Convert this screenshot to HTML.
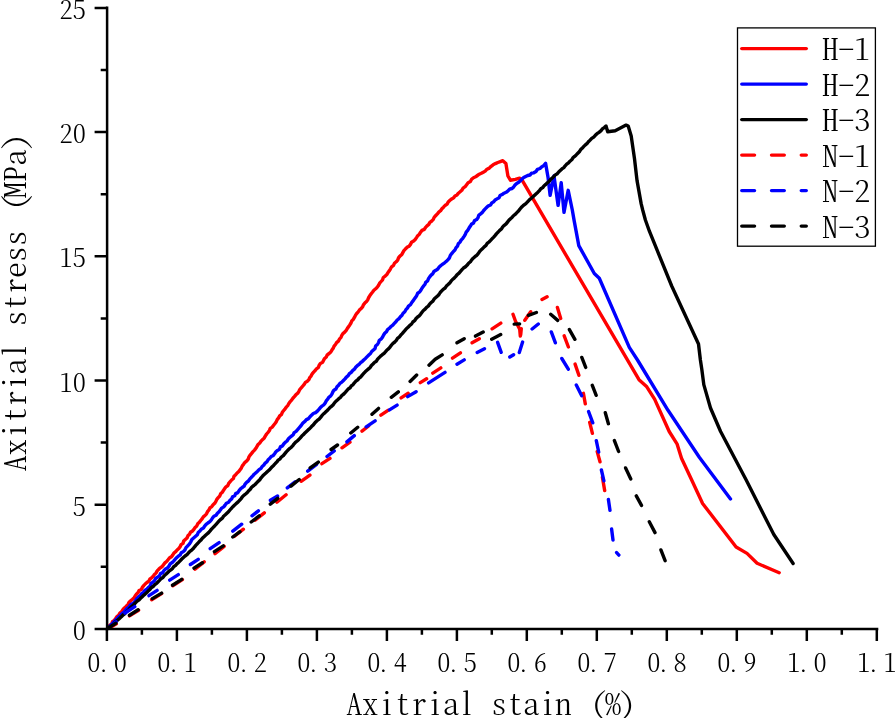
<!DOCTYPE html>
<html><head><meta charset="utf-8"><title>Axitrial stress - stain</title>
<style>
html,body{margin:0;padding:0;background:#fff;}
body{width:895px;height:718px;overflow:hidden;}
svg{display:block;}
text{font-family:"Noto Serif CJK SC", "Liberation Serif", serif;fill:#000;font-weight:300;font-feature-settings:'hwid' 1;}
</style></head><body>
<svg width="895" height="718" viewBox="0 0 895 718">
<rect width="895" height="718" fill="#fff"/>
<clipPath id="pa"><rect x="107.1" y="0" width="788" height="628.9"/></clipPath>
<g fill="none" stroke-width="3.4" stroke-linejoin="round" stroke-linecap="round" clip-path="url(#pa)">
<path d="M107.0,629.0 L108.3,627.1 L109.7,625.3 L111.6,623.9 L112.5,621.7 L114.4,620.3 L115.7,618.5 L117.0,616.5 L118.8,615.1 L119.9,613.0 L121.7,611.6 L122.9,609.6 L124.4,607.9 L126.1,606.4 L127.9,604.9 L128.8,602.7 L130.4,601.0 L132.2,599.5 L133.9,598.0 L135.1,596.0 L136.4,594.2 L138.1,592.6 L139.1,590.5 L141.3,589.5 L142.3,587.4 L143.7,585.7 L145.2,584.0 L146.9,582.5 L148.8,581.3 L149.8,579.2 L151.6,577.8 L153.2,576.3 L154.4,574.4 L156.1,572.9 L157.2,570.9 L158.7,569.3 L160.3,567.8 L162.2,566.5 L163.5,564.7 L164.9,562.9 L166.6,561.5 L168.0,559.8 L169.4,558.0 L171.3,556.8 L172.7,555.1 L173.9,553.1 L175.7,551.7 L177.1,550.0 L178.8,548.5 L180.1,546.7 L181.1,544.6 L183.0,543.4 L183.7,541.0 L185.3,539.5 L187.0,538.0 L187.9,535.8 L189.5,534.3 L190.5,532.3 L192.5,531.0 L193.9,529.3 L195.1,527.4 L196.8,525.9 L197.7,523.8 L199.4,522.3 L200.7,520.5 L202.1,518.8 L203.3,516.9 L205.0,515.5 L206.5,513.8 L207.5,511.7 L208.9,510.0 L209.9,507.9 L211.8,506.6 L213.1,504.8 L214.7,503.3 L215.9,501.4 L216.8,499.3 L218.2,497.6 L219.8,496.0 L220.6,493.8 L222.3,492.3 L223.4,490.4 L224.7,488.6 L226.0,486.8 L227.9,485.5 L228.7,483.3 L230.2,481.6 L231.6,480.0 L233.4,478.5 L234.0,476.2 L235.7,474.7 L237.1,473.0 L238.8,471.5 L240.1,469.7 L241.4,467.9 L242.3,465.8 L243.7,464.1 L245.0,462.3 L246.8,460.9 L248.2,459.2 L248.9,456.9 L250.2,455.1 L251.6,453.4 L253.0,451.6 L254.5,450.1 L255.9,448.3 L257.0,446.4 L258.1,444.4 L259.8,442.9 L261.1,441.1 L262.7,439.4 L264.3,437.9 L265.4,435.9 L266.6,434.0 L268.1,432.3 L269.5,430.5 L270.2,428.4 L272.3,427.1 L273.6,425.3 L275.0,423.5 L276.3,421.7 L277.2,419.6 L278.6,417.9 L279.7,415.9 L281.5,414.4 L282.3,412.3 L283.7,410.5 L285.1,408.8 L286.4,407.0 L287.9,405.3 L289.0,403.3 L290.3,401.5 L291.8,399.8 L293.1,398.0 L294.6,396.4 L296.0,394.6 L297.8,393.2 L298.9,391.3 L299.9,389.3 L301.4,387.7 L302.8,386.0 L304.2,384.3 L305.4,382.4 L307.4,381.2 L308.9,379.6 L309.8,377.5 L311.2,375.8 L312.2,373.8 L313.6,372.1 L315.2,370.5 L316.5,368.8 L318.4,367.4 L319.2,365.2 L320.4,363.4 L322.6,362.3 L323.6,360.3 L324.6,358.4 L326.3,356.9 L327.3,354.8 L329.1,353.5 L330.8,352.0 L331.9,350.1 L333.2,348.3 L334.1,346.2 L335.5,344.5 L336.6,342.6 L338.4,341.1 L339.4,339.2 L340.9,337.5 L341.8,335.4 L342.9,333.6 L344.7,332.1 L346.2,330.4 L347.3,328.5 L348.5,326.7 L349.8,324.9 L351.0,323.0 L351.8,320.9 L353.3,319.3 L354.4,317.4 L355.4,315.4 L356.7,313.5 L358.2,311.9 L359.4,310.1 L361.1,308.5 L362.6,306.9 L363.4,304.8 L364.8,303.1 L366.5,301.5 L367.8,299.7 L368.7,297.5 L369.9,295.6 L371.2,293.8 L372.6,292.0 L373.9,290.2 L375.7,288.7 L377.3,287.1 L378.6,285.2 L379.6,283.2 L381.1,281.5 L382.6,279.8 L383.3,277.5 L385.2,276.1 L386.8,274.5 L388.0,272.6 L389.3,270.8 L390.5,268.8 L391.6,266.8 L393.5,265.4 L394.4,263.3 L396.2,261.8 L397.7,260.1 L398.5,257.9 L399.9,256.1 L401.7,254.7 L402.8,252.6 L403.9,250.7 L405.4,249.0 L407.0,247.3 L409.1,246.2 L410.5,244.4 L411.5,242.3 L413.6,241.1 L415.2,239.5 L416.5,237.6 L417.7,235.7 L419.4,234.2 L420.6,232.2 L422.0,230.4 L424.3,229.4 L425.5,227.5 L427.0,225.8 L428.8,224.4 L429.9,222.3 L431.8,221.0 L433.3,219.3 L434.3,217.1 L435.8,215.5 L437.4,213.8 L438.8,212.1 L440.6,210.7 L441.9,208.8 L443.5,207.2 L445.0,205.5 L447.1,204.1 L448.2,202.0 L450.0,200.3 L451.7,198.9 L453.7,197.8 L455.0,195.9 L457.0,194.9 L458.4,193.2 L460.1,191.8 L461.8,190.3 L463.1,188.1 L465.1,186.7 L466.6,184.7 L468.1,182.7 L470.4,181.5 L471.6,179.3 L473.5,177.7 L475.6,176.8 L477.4,175.5 L479.3,174.2 L481.3,173.3 L483.3,172.2 L485.2,171.1 L487.0,169.2 L489.3,168.1 L491.1,166.3 L493.1,164.8 L495.4,163.6 L497.8,162.5 L500.3,161.6 L502.8,160.7 L505.9,163.5 L507.9,176.0 L510.4,180.2 L515.4,179.4 L519.6,178.2 L522.1,180.2 L639.0,379.7 L646.8,386.8 L654.6,399.1 L669.2,431.5 L677.0,443.8 L681.5,458.3 L691.7,480.0 L702.6,503.5 L736.1,547.0 L747.0,553.4 L757.1,563.3 L779.2,572.7" stroke="#f00"/>
<path d="M107.0,629.0 L109.0,627.6 L110.3,625.6 L112.1,624.0 L113.7,622.2 L115.3,620.5 L117.0,618.8 L118.6,617.0 L120.4,615.4 L122.0,613.6 L124.0,612.2 L125.5,610.3 L127.1,608.5 L129.0,607.2 L130.1,605.2 L132.0,603.9 L134.0,602.7 L135.4,600.9 L136.7,598.8 L138.3,597.1 L140.2,595.7 L141.6,593.7 L143.5,592.3 L144.8,590.4 L146.8,589.1 L148.4,587.5 L150.1,585.9 L151.0,583.6 L152.9,582.2 L154.5,580.6 L155.6,578.5 L157.6,577.1 L159.5,575.8 L160.5,573.6 L162.7,572.6 L163.9,570.6 L165.5,569.0 L167.5,567.9 L169.0,566.1 L170.1,564.0 L172.0,562.7 L173.6,561.1 L175.1,559.4 L176.6,557.7 L178.3,556.2 L180.2,554.9 L181.3,552.8 L183.3,551.6 L184.9,550.0 L186.0,547.6 L187.7,545.8 L189.5,543.9 L190.8,541.8 L191.9,539.5 L193.9,537.8 L195.6,536.3 L197.3,534.8 L198.2,532.5 L199.9,531.0 L201.3,529.2 L203.4,528.1 L204.6,526.1 L206.1,524.4 L207.9,523.0 L209.8,521.7 L211.3,520.0 L212.5,518.0 L213.9,516.2 L216.1,515.2 L217.4,513.3 L219.1,511.8 L220.4,509.9 L221.7,508.1 L223.7,506.9 L225.1,505.1 L226.4,503.2 L228.6,502.3 L229.9,500.4 L231.6,499.0 L232.6,496.8 L234.7,495.8 L235.7,493.6 L237.8,492.6 L239.1,490.6 L240.5,488.9 L242.2,487.5 L244.1,486.2 L245.1,484.1 L246.6,482.3 L248.4,481.0 L249.7,479.2 L251.2,477.5 L252.8,475.9 L254.2,474.2 L255.9,472.7 L257.6,471.2 L259.1,469.6 L261.0,468.3 L262.2,466.4 L263.9,464.9 L265.2,463.1 L267.0,461.7 L268.1,459.7 L269.8,458.3 L271.2,456.5 L273.3,455.4 L274.6,453.7 L275.9,451.8 L277.6,450.4 L279.5,449.2 L280.4,446.9 L282.5,445.9 L283.7,444.0 L285.2,442.4 L287.0,441.0 L288.2,439.1 L289.8,437.6 L291.5,436.1 L293.2,434.7 L294.2,432.6 L296.1,431.4 L297.6,429.7 L299.0,428.0 L300.4,426.3 L301.8,424.6 L303.1,422.8 L304.9,421.4 L306.4,419.6 L308.6,418.6 L310.0,416.7 L311.7,415.1 L313.3,413.5 L315.6,412.6 L317.4,411.1 L318.9,409.4 L320.4,407.6 L322.1,406.0 L324.0,404.6 L325.2,402.9 L326.2,400.9 L327.7,399.2 L328.8,397.3 L330.7,395.9 L331.9,394.1 L332.8,392.0 L333.9,390.2 L335.9,389.0 L337.0,386.8 L338.6,385.3 L339.9,383.4 L341.8,382.1 L343.4,380.5 L345.0,378.9 L346.4,377.1 L348.2,375.7 L349.4,373.7 L351.2,372.3 L352.6,370.6 L354.4,369.2 L355.7,367.3 L357.3,365.7 L359.1,364.3 L360.6,362.7 L362.4,361.3 L364.0,359.7 L365.7,358.2 L367.2,356.6 L368.8,355.0 L370.5,353.5 L371.7,351.5 L373.4,350.0 L375.1,348.4 L375.6,346.0 L377.4,344.5 L378.6,342.5 L379.3,340.3 L381.3,338.9 L382.6,337.0 L383.6,335.0 L384.9,333.0 L386.6,331.6 L387.6,329.5 L389.5,328.1 L391.0,326.5 L392.8,325.1 L394.3,323.4 L395.9,321.8 L397.2,320.0 L399.0,318.6 L400.4,316.8 L402.0,315.2 L403.1,313.2 L404.8,311.7 L405.9,309.7 L407.4,308.1 L408.5,306.1 L410.5,304.7 L411.6,302.7 L413.0,300.9 L414.3,299.1 L415.6,297.3 L416.8,295.3 L417.7,293.2 L419.7,291.9 L421.0,290.0 L422.1,288.0 L423.4,286.2 L424.9,284.5 L425.7,282.3 L427.6,280.9 L428.5,278.7 L429.7,276.8 L431.1,275.1 L432.9,273.6 L433.9,271.5 L435.9,270.3 L437.8,269.0 L439.2,267.1 L440.9,265.5 L442.7,264.1 L444.6,262.8 L446.4,261.3 L448.0,259.6 L449.5,257.8 L450.3,255.5 L451.7,253.6 L453.2,251.7 L454.9,250.1 L455.9,247.9 L457.5,246.1 L458.3,243.8 L460.0,242.1 L461.1,240.1 L462.8,238.3 L464.1,236.4 L465.3,234.4 L466.2,232.1 L467.7,230.3 L468.9,228.3 L470.2,226.3 L471.4,224.3 L473.5,223.0 L474.4,220.8 L476.6,219.6 L478.0,217.8 L478.7,215.4 L480.6,213.9 L482.4,212.4 L483.7,210.5 L485.2,208.9 L486.8,207.3 L488.4,205.8 L490.6,205.0 L491.8,202.9 L493.7,201.8 L495.1,200.0 L497.0,198.9 L499.0,197.8 L500.1,195.6 L502.1,194.6 L504.0,193.2 L506.1,192.3 L508.0,190.9 L509.6,189.2 L512.0,188.5 L513.7,186.9 L515.0,185.0 L516.7,183.4 L518.7,182.3 L520.4,180.7 L522.0,179.1 L523.7,177.6 L525.7,176.5 L527.7,175.5 L530.0,175.0 L531.6,173.2 L533.8,172.8 L536.0,171.5 L537.5,169.3 L540.0,168.5 L541.8,166.8 L543.9,165.4 L545.6,163.4 L548.1,177.7 L550.1,195.3 L554.0,176.0 L558.1,205.4 L561.2,182.7 L564.0,212.4 L568.2,190.3 L572.3,210.0 L574.1,220.4 L578.8,245.6 L594.3,273.5 L599.3,278.3 L629.3,347.4 L637.5,360.0 L668.0,410.3 L699.3,457.2 L730.5,499.0" stroke="#00f"/>
<path d="M107.0,629.0 L108.7,627.5 L110.5,626.1 L112.4,624.9 L114.0,623.2 L115.8,621.6 L117.7,620.0 L119.5,618.4 L121.3,616.8 L123.0,615.0 L125.0,613.6 L126.5,611.6 L128.5,610.1 L130.0,608.1 L131.7,606.4 L133.6,604.7 L135.3,603.0 L136.9,601.4 L138.7,600.2 L140.3,598.6 L141.9,597.1 L143.4,595.5 L145.1,594.1 L146.8,592.6 L148.2,591.0 L149.9,589.5 L151.2,587.7 L153.1,586.5 L154.6,584.9 L156.4,583.5 L157.9,582.0 L159.5,580.4 L160.9,578.7 L162.9,577.5 L164.2,575.7 L165.9,574.3 L167.5,572.7 L169.0,571.2 L170.8,569.9 L172.5,568.4 L173.8,566.6 L175.6,565.3 L177.1,563.6 L178.8,562.2 L180.3,560.6 L181.8,559.0 L183.4,557.5 L185.1,556.0 L187.0,554.7 L188.4,553.0 L189.9,551.4 L191.7,550.1 L193.3,548.6 L194.6,546.8 L196.0,545.1 L197.6,543.5 L199.1,541.8 L200.7,540.3 L202.1,538.6 L203.7,537.1 L205.3,535.5 L207.0,534.0 L208.6,532.6 L210.1,530.9 L211.5,529.2 L213.0,527.6 L214.6,526.0 L216.1,524.3 L217.6,522.7 L219.0,521.0 L220.6,519.5 L222.4,518.2 L223.6,516.2 L225.3,514.8 L226.9,513.3 L228.5,511.8 L229.9,510.0 L231.4,508.3 L232.9,506.7 L234.6,505.1 L236.1,503.6 L237.9,502.2 L239.4,500.5 L241.0,498.9 L242.2,497.0 L243.8,495.4 L245.6,494.0 L247.3,492.5 L248.7,490.7 L250.3,489.2 L251.6,487.3 L253.3,485.9 L255.1,484.5 L256.6,482.9 L258.2,481.3 L259.8,479.7 L261.1,477.8 L262.6,476.1 L264.2,474.6 L265.9,473.1 L267.5,471.6 L269.2,470.1 L270.7,468.4 L272.2,466.7 L273.8,465.2 L275.3,463.5 L276.9,461.9 L278.2,460.1 L280.1,458.8 L281.4,457.0 L283.3,455.6 L284.7,453.9 L286.1,452.2 L287.6,450.5 L289.2,448.9 L291.0,447.5 L292.6,445.9 L293.9,444.1 L295.4,442.4 L297.2,441.0 L298.8,439.5 L300.3,437.8 L301.8,436.1 L303.5,434.6 L304.9,432.9 L306.5,431.4 L308.1,429.9 L309.8,428.5 L311.3,426.8 L312.9,425.3 L314.3,423.6 L315.7,421.9 L317.3,420.4 L319.1,419.1 L320.6,417.4 L321.9,415.7 L323.4,414.0 L325.1,412.6 L326.7,411.1 L328.2,409.5 L329.7,407.8 L331.4,406.4 L333.0,405.0 L334.3,403.1 L335.7,401.5 L337.4,400.0 L339.0,398.5 L340.7,397.1 L342.0,395.3 L343.8,394.0 L345.3,392.4 L346.8,390.7 L348.2,389.0 L350.1,387.8 L351.3,385.9 L353.1,384.6 L354.4,382.8 L355.9,381.2 L357.7,379.9 L359.1,378.1 L360.9,376.8 L362.2,375.1 L363.7,373.4 L365.2,371.8 L366.9,370.3 L368.5,368.9 L370.2,367.4 L371.4,365.5 L373.0,364.0 L374.5,362.4 L376.4,361.2 L377.6,359.2 L379.1,357.6 L380.6,356.1 L382.3,354.7 L384.1,353.3 L385.6,351.7 L387.0,350.0 L388.7,348.6 L390.2,346.9 L391.5,345.0 L393.0,343.3 L394.8,342.0 L396.3,340.3 L397.5,338.4 L399.3,337.0 L400.7,335.2 L402.2,333.6 L403.7,331.9 L405.2,330.2 L406.6,328.5 L408.3,327.0 L409.8,325.4 L411.6,324.0 L412.8,322.0 L414.7,320.7 L415.8,318.8 L417.4,317.2 L419.2,315.8 L420.7,314.1 L422.0,312.3 L423.4,310.5 L425.1,309.1 L426.6,307.4 L428.4,306.0 L429.6,304.1 L431.2,302.5 L432.9,301.1 L434.1,299.1 L435.8,297.6 L437.5,296.1 L439.0,294.5 L440.2,292.5 L441.7,290.9 L443.2,289.3 L445.1,288.0 L446.4,286.1 L448.1,284.6 L449.7,283.1 L451.0,281.2 L452.5,279.5 L454.2,278.1 L455.8,276.4 L457.2,274.6 L459.0,273.2 L460.5,271.4 L462.0,269.7 L463.5,268.0 L465.5,266.7 L467.2,265.1 L468.6,263.3 L470.4,261.8 L471.7,259.9 L473.2,258.2 L474.9,256.7 L476.7,255.3 L478.2,253.6 L479.5,251.7 L481.0,250.0 L482.7,248.5 L484.2,246.8 L486.0,245.4 L487.2,243.4 L489.0,242.0 L490.6,240.4 L492.2,238.7 L493.7,237.1 L495.2,235.4 L496.6,233.6 L498.2,232.0 L499.7,230.3 L501.5,228.9 L502.7,226.9 L504.3,225.3 L506.1,223.9 L507.5,222.1 L508.9,220.3 L510.5,218.7 L512.2,217.2 L513.7,215.5 L515.5,214.1 L517.1,212.4 L518.7,210.8 L520.0,209.0 L521.4,207.3 L523.1,205.7 L524.8,204.4 L526.5,202.9 L528.0,201.3 L529.6,199.6 L531.3,198.2 L533.0,196.7 L534.6,195.2 L536.2,193.7 L537.9,192.2 L539.4,190.6 L540.8,188.8 L542.7,187.6 L544.1,185.8 L545.8,184.4 L547.4,182.7 L549.1,181.3 L550.5,179.6 L552.2,178.1 L553.8,176.5 L555.3,174.9 L557.3,173.7 L558.7,172.0 L560.3,170.4 L561.9,168.9 L563.8,167.6 L565.2,165.8 L566.7,164.2 L568.5,162.9 L570.0,161.2 L571.7,159.8 L572.9,157.8 L574.6,156.4 L576.2,154.9 L577.8,153.3 L579.3,151.8 L580.5,149.8 L582.1,148.3 L583.6,146.6 L585.1,145.1 L586.9,143.7 L588.4,141.8 L590.1,140.1 L591.7,138.4 L593.7,137.1 L595.3,135.3 L597.0,133.7 L599.0,132.3 L600.8,130.9 L602.3,128.9 L604.3,127.6 L606.0,126.0 L607.7,131.8 L615.2,130.7 L626.1,125.1 L628.2,126.0 L631.2,136.0 L634.5,158.7 L637.0,180.4 L641.2,203.9 L642.7,210.0 L645.4,220.0 L649.4,231.2 L671.7,286.0 L698.5,344.0 L700.4,360.0 L701.9,370.0 L703.8,384.6 L710.5,408.0 L720.6,431.5 L746.2,480.0 L766.4,520.0 L773.8,534.5 L793.1,563.5" stroke="#000"/>
<path d="M108.2,628.7 L116.3,623.8 M129.5,615.9 L138.6,610.2 M151.6,599.7 L161.6,593.6 M172.7,585.7 L182.4,579.6 M195.0,569.1 L204.2,561.8 M215.0,553.6 L224.2,546.3 M234.2,536.5 L243.4,529.2 M255.1,520.1 L264.3,512.8 M276.9,502.2 L286.1,494.8 M301.1,481.3 L309.9,475.1 M321.9,463.7 L330.0,458.4 M342.0,447.8 L350.0,442.2 M362.0,431.1 L368.6,426.0 M380.9,415.2 L388.0,410.3 M401.1,397.9 L408.2,393.3 M420.3,382.6 L426.6,378.8 M432.8,373.1 L440.8,367.9 M452.5,358.1 L460.4,352.8 M472.1,342.8 L479.3,338.7 M492.1,328.8 L500.8,323.1 M513.0,314.3 L515.5,321.3 L519.7,329.1 L520.3,336.1 M520.7,334.8 L521.3,328.7 M524.8,320.3 L530.7,311.7 M542.0,299.5 L547.1,296.8 M557.4,307.4 L560.7,318.4 M564.2,335.8 L568.4,347.0 M575.1,364.1 L578.9,375.3 M583.4,393.3 L585.3,403.9 M589.7,422.3 L592.4,433.3 M597.2,451.6 L600.0,461.8 M602.4,477.2 L604.7,490.6" stroke="#f00"/>
<path d="M107.9,628.3 L116.1,621.7 M125.0,613.0 L134.8,606.6 M149.0,595.7 L157.1,590.4 M169.7,580.1 L178.3,574.6 M190.4,564.5 L198.2,559.3 M210.2,548.7 L219.1,542.6 M232.8,531.2 L241.7,524.2 M252.0,515.8 L258.4,510.8 M270.4,500.3 L277.6,496.0 M287.3,487.9 L295.1,481.8 M307.7,471.2 L316.6,464.3 M327.0,456.5 L334.2,450.9 M346.9,441.9 L354.3,435.6 M366.2,426.9 L375.1,420.8 M389.5,409.9 L397.1,405.1 M407.7,396.6 L416.1,391.7 M428.6,382.9 L445.0,372.4 M457.0,364.2 L464.2,359.9 M477.2,352.5 L484.5,348.7 M497.6,342.3 L501.2,352.3 M509.8,357.0 L513.6,354.7 M519.3,352.6 L522.6,342.0 M532.1,329.0 L538.3,324.0 M551.3,331.9 L555.4,342.8 M561.8,358.5 L568.3,369.2 M576.3,385.1 L581.7,395.7 M588.6,411.6 L592.8,422.8 M596.3,440.7 L598.7,452.0 M601.4,470.0 L603.9,480.8 M608.4,499.4 L610.0,510.4 M611.6,529.0 L613.0,540.0 M616.6,552.6 L618.9,555.1" stroke="#00f"/>
<path d="M107.9,628.2 L115.8,623.2 M129.5,615.3 L138.1,609.8 M152.4,598.6 L161.6,593.1 M172.5,585.2 L181.7,579.4 M194.0,568.1 L202.4,562.7 M214.4,551.6 L223.3,545.9 M232.8,537.0 L240.0,531.7 M251.2,522.0 L259.2,515.9 M270.3,504.1 L277.7,498.3 M291.0,486.1 L299.2,479.5 M310.2,467.9 L318.3,462.1 M331.1,449.5 L337.5,445.0 M350.8,433.0 L357.7,427.3 M372.0,414.3 L378.5,408.4 M391.3,397.3 L398.3,391.9 M410.1,381.4 L416.7,375.1 M429.0,365.2 L435.2,359.3 L442.2,354.9 M457.0,342.8 L464.2,338.7 M475.5,336.1 L483.2,332.0 M491.7,339.2 L500.7,334.6 M514.2,324.1 L519.6,323.9 M528.4,315.3 L536.4,312.5 M550.7,314.3 L557.7,320.4 M569.4,329.6 L574.9,339.3 M581.8,357.4 L585.7,367.4 M592.3,385.3 L596.2,395.3 M605.3,412.7 L608.4,423.7 M614.4,440.6 L618.6,451.5 M625.6,467.9 L630.8,478.9 M636.3,495.9 L641.5,505.4 M649.3,521.7 L655.0,532.6 M660.9,549.9 L665.1,560.7" stroke="#000"/>
</g>
<g stroke="#000" stroke-width="2.5" fill="none" stroke-linecap="butt">
<path d="M107.1,6.6 V630.15"/>
<path d="M105.85,628.9 H878.3"/>
<path d="M106.9,628.9 v12.0 M141.9,628.9 v5.9 M176.9,628.9 v12.0 M211.9,628.9 v5.9 M246.9,628.9 v12.0 M281.9,628.9 v5.9 M316.9,628.9 v12.0 M351.9,628.9 v5.9 M386.9,628.9 v12.0 M421.9,628.9 v5.9 M456.9,628.9 v12.0 M491.8,628.9 v5.9 M526.8,628.9 v12.0 M561.8,628.9 v5.9 M596.8,628.9 v12.0 M631.8,628.9 v5.9 M666.8,628.9 v12.0 M701.8,628.9 v5.9 M736.8,628.9 v12.0 M771.8,628.9 v5.9 M806.8,628.9 v12.0 M841.8,628.9 v5.9 M876.8,628.9 v12.0 M107.1,628.9 h-12.5 M107.1,566.8 h-6.4 M107.1,504.7 h-12.5 M107.1,442.6 h-6.4 M107.1,380.5 h-12.5 M107.1,318.4 h-6.4 M107.1,256.3 h-12.5 M107.1,194.2 h-6.4 M107.1,132.1 h-12.5 M107.1,70.0 h-6.4 M107.1,7.9 h-12.5"/>
</g>
<text transform="translate(0,672.3) scale(1,0.95)" x="93.90 103.50 120.30" y="0" font-size="26.4" text-anchor="middle" >0.0</text>
<text transform="translate(0,672.3) scale(1,0.95)" x="163.89 173.49 190.29" y="0" font-size="26.4" text-anchor="middle" >0.1</text>
<text transform="translate(0,672.3) scale(1,0.95)" x="233.88 243.48 260.28" y="0" font-size="26.4" text-anchor="middle" >0.2</text>
<text transform="translate(0,672.3) scale(1,0.95)" x="303.87 313.47 330.27" y="0" font-size="26.4" text-anchor="middle" >0.3</text>
<text transform="translate(0,672.3) scale(1,0.95)" x="373.86 383.46 400.26" y="0" font-size="26.4" text-anchor="middle" >0.4</text>
<text transform="translate(0,672.3) scale(1,0.95)" x="443.85 453.45 470.25" y="0" font-size="26.4" text-anchor="middle" >0.5</text>
<text transform="translate(0,672.3) scale(1,0.95)" x="513.84 523.44 540.24" y="0" font-size="26.4" text-anchor="middle" >0.6</text>
<text transform="translate(0,672.3) scale(1,0.95)" x="583.83 593.43 610.23" y="0" font-size="26.4" text-anchor="middle" >0.7</text>
<text transform="translate(0,672.3) scale(1,0.95)" x="653.82 663.42 680.22" y="0" font-size="26.4" text-anchor="middle" >0.8</text>
<text transform="translate(0,672.3) scale(1,0.95)" x="723.81 733.41 750.21" y="0" font-size="26.4" text-anchor="middle" >0.9</text>
<text transform="translate(0,672.3) scale(1,0.95)" x="793.80 803.40 820.20" y="0" font-size="26.4" text-anchor="middle" >1.0</text>
<text transform="translate(0,672.3) scale(1,0.95)" x="863.79 873.39 890.19" y="0" font-size="26.4" text-anchor="middle" >1.1</text>
<text transform="translate(0,640.0) scale(1,0.95)" x="79.40" y="0" font-size="26.4" text-anchor="middle" >0</text>
<text transform="translate(0,515.8) scale(1,0.95)" x="79.40" y="0" font-size="26.4" text-anchor="middle" >5</text>
<text transform="translate(0,391.6) scale(1,0.95)" x="66.20 79.40" y="0" font-size="26.4" text-anchor="middle" >10</text>
<text transform="translate(0,267.4) scale(1,0.95)" x="66.20 79.40" y="0" font-size="26.4" text-anchor="middle" >15</text>
<text transform="translate(0,143.2) scale(1,0.95)" x="66.20 79.40" y="0" font-size="26.4" text-anchor="middle" >20</text>
<text transform="translate(0,19.0) scale(1,0.95)" x="66.20 79.40" y="0" font-size="26.4" text-anchor="middle" >25</text>
<text transform="translate(0,714.6) scale(1,0.92)" x="354.34 370.41 386.48 402.55 418.62 434.69 450.75 466.83 482.89 498.97 515.04 531.11 547.17 563.25 579.32 598.88 612.96 627.53" y="0" font-size="32.14" text-anchor="middle" >Axitrial stain (%)</text>
<g transform="translate(26.2,471.2) rotate(-90)"><text transform="translate(0,0) scale(1,0.92)" x="8.04 24.11 40.17 56.25 72.31 88.39 104.45 120.53 136.59 152.66 168.74 184.81 200.88 216.94 233.02 249.09 268.66 281.23 297.30 313.37 329.44" y="0" font-size="32.14" text-anchor="middle" >Axitrial stress (MPa)</text></g>
<rect x="737.5" y="27.9" width="137.9" height="218.3" fill="#fff" stroke="#000" stroke-width="1.3"/>
<path d="M741.75,48.6 H806.3" stroke="#f00" stroke-width="3.4" stroke-linecap="round" fill="none"/>
<text transform="translate(0,60.3) scale(1,0.92)" x="830.24 846.31 862.38" y="0" font-size="32.14" text-anchor="middle" >H-1</text>
<path d="M741.75,84.1 H806.3" stroke="#00f" stroke-width="3.4" stroke-linecap="round" fill="none"/>
<text transform="translate(0,95.8) scale(1,0.92)" x="830.24 846.31 862.38" y="0" font-size="32.14" text-anchor="middle" >H-2</text>
<path d="M741.75,119.6 H806.3" stroke="#000" stroke-width="3.4" stroke-linecap="round" fill="none"/>
<text transform="translate(0,131.3) scale(1,0.92)" x="830.24 846.31 862.38" y="0" font-size="32.14" text-anchor="middle" >H-3</text>
<path d="M741.75,155.1 H806.3" stroke="#f00" stroke-width="3.4" stroke-linecap="round" fill="none" stroke-dasharray="12.8 16.95"/>
<text transform="translate(0,166.8) scale(1,0.92)" x="830.24 846.31 862.38" y="0" font-size="32.14" text-anchor="middle" >N-1</text>
<path d="M741.75,190.6 H806.3" stroke="#00f" stroke-width="3.4" stroke-linecap="round" fill="none" stroke-dasharray="12.8 16.95"/>
<text transform="translate(0,202.3) scale(1,0.92)" x="830.24 846.31 862.38" y="0" font-size="32.14" text-anchor="middle" >N-2</text>
<path d="M741.75,226.1 H806.3" stroke="#000" stroke-width="3.4" stroke-linecap="round" fill="none" stroke-dasharray="12.8 16.95"/>
<text transform="translate(0,237.8) scale(1,0.92)" x="830.24 846.31 862.38" y="0" font-size="32.14" text-anchor="middle" >N-3</text>
</svg></body></html>
